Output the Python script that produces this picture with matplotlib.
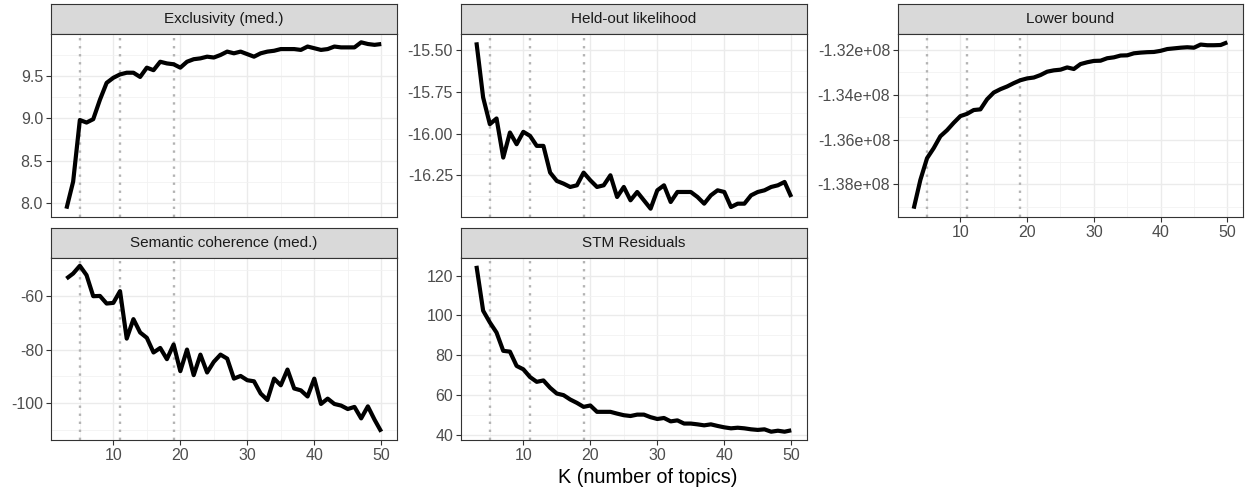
import numpy as np
import matplotlib
matplotlib.use("Agg")
import matplotlib.pyplot as plt
from matplotlib.ticker import FixedLocator, FuncFormatter

plt.rcParams['font.family'] = ['Liberation Sans', 'DejaVu Sans']

K = list(range(3, 51))
chosen_k = [5, 11, 19]

exclusivity = [7.93, 8.25, 8.98, 8.95, 8.99, 9.22, 9.42, 9.48, 9.52, 9.54,
               9.54, 9.49, 9.60, 9.57, 9.67, 9.65, 9.64, 9.60, 9.67, 9.70,
               9.71, 9.73, 9.72, 9.75, 9.79, 9.77, 9.79, 9.76, 9.73, 9.77,
               9.79, 9.80, 9.82, 9.82, 9.82, 9.81, 9.85, 9.83, 9.81, 9.82,
               9.85, 9.84, 9.84, 9.84, 9.90, 9.88, 9.87, 9.88]

heldout = [-15.454, -15.784, -15.944, -15.91, -16.144, -15.994, -16.064, -15.99,
           -16.014, -16.074, -16.074, -16.234, -16.284, -16.30, -16.32, -16.31,
           -16.234, -16.28, -16.32, -16.31, -16.25, -16.38, -16.32, -16.40,
           -16.35, -16.40, -16.45, -16.34, -16.31, -16.41, -16.35, -16.35,
           -16.35, -16.38, -16.42, -16.37, -16.34, -16.35, -16.44, -16.42,
           -16.42, -16.37, -16.35, -16.34, -16.32, -16.31, -16.29, -16.38]

# lower bound, in millions
lower_bound_m = [-139.08, -137.80, -136.83, -136.38, -135.85, -135.58, -135.25,
                 -134.95, -134.85, -134.68, -134.65, -134.20, -133.90, -133.75,
                 -133.63, -133.48, -133.35, -133.27, -133.23, -133.12, -132.97,
                 -132.91, -132.88, -132.78, -132.85, -132.63, -132.55, -132.49,
                 -132.48, -132.37, -132.33, -132.25, -132.24, -132.15, -132.12,
                 -132.10, -132.09, -132.04, -131.96, -131.93, -131.90, -131.88,
                 -131.90, -131.76, -131.79, -131.79, -131.78, -131.66]

semcoh = [-53.4, -51.5, -48.6, -52.1, -60.0, -59.9, -62.75, -62.5, -58.1, -75.9,
          -68.6, -73.6, -75.6, -81.1, -79.4, -83.6, -78.1, -88.1, -80.0, -89.6,
          -81.9, -88.6, -84.6, -81.9, -83.4, -90.9, -89.9, -91.5, -91.9, -96.5,
          -98.9, -90.9, -93.4, -87.5, -94.6, -95.3, -97.6, -90.9, -100.4, -98.4,
          -100.4, -101.0, -102.3, -101.5, -105.8, -101.3, -106.3, -110.8]

residuals = [125.0, 102.4, 96.5, 91.4, 82.2, 81.8, 74.6, 72.9, 69.0, 66.6,
             67.3, 63.6, 60.7, 59.9, 57.7, 56.0, 54.0, 54.7, 51.5, 51.5,
             51.5, 50.6, 49.8, 49.4, 50.1, 50.1, 48.8, 47.9, 48.4, 46.7,
             47.2, 45.6, 45.6, 45.2, 44.7, 45.2, 44.4, 43.7, 43.2, 43.5,
             43.2, 42.7, 42.4, 42.7, 41.5, 42.0, 41.5, 42.2]

W, H = 1245, 490
fig = plt.figure(figsize=(W / 100, H / 100), dpi=100)

grey30 = '#4D4D4D'
grey20 = '#333333'


def px_axes(x0, y0, x1, y1):
    return fig.add_axes([x0 / W, 1 - y1 / H, (x1 - x0) / W, (y1 - y0) / H])


def panel(x0, x1, y0, y1, title, y, yticks, yminor, fmt, xaxis):
    # strip
    s = px_axes(x0, y0, x1, y0 + 30)
    s.set_facecolor('#D9D9D9')
    s.set_xticks([]); s.set_yticks([])
    for sp in s.spines.values():
        sp.set_color(grey20); sp.set_linewidth(0.8)
    s.text(0.5, 0.5, title, ha='center', va='center', fontsize=11, color='#1A1A1A',
           transform=s.transAxes)

    ax = px_axes(x0, y0 + 30, x1, y1)
    ax.plot(K, y, color='black', lw=3.0, solid_capstyle='butt',
            solid_joinstyle='round', zorder=3)
    for k in chosen_k:
        ax.axvline(k, color='#B3B3B3', lw=1.7, ls=(0, (1, 2.4)), zorder=2)
    ax.margins(x=0.05, y=0.05)
    ax.yaxis.set_major_locator(FixedLocator(yticks))
    ax.yaxis.set_minor_locator(FixedLocator(yminor))
    ax.yaxis.set_major_formatter(FuncFormatter(fmt))
    ax.xaxis.set_major_locator(FixedLocator([10, 20, 30, 40, 50]))
    ax.xaxis.set_minor_locator(FixedLocator([5, 15, 25, 35, 45]))
    ax.grid(which='major', color='#EBEBEB', lw=1.0, zorder=0)
    ax.grid(which='minor', color='#F2F2F2', lw=0.6, zorder=0)
    ax.set_axisbelow(True)
    for sp in ax.spines.values():
        sp.set_color(grey20); sp.set_linewidth(0.8)
    ax.tick_params(which='major', axis='both', labelsize=11.5, labelcolor=grey30,
                   color=grey20, length=3.5, width=0.8, pad=2)
    ax.tick_params(which='minor', length=0)
    if not xaxis:
        ax.tick_params(axis='x', which='major', length=0, labelbottom=False)
    return ax


cols = [(50.7, 397), (460.7, 807), (898, 1243)]
row1 = (4, 217)
row2 = (227.5, 440)

panel(*cols[0], *row1, 'Exclusivity (med.)', exclusivity,
      [8.0, 8.5, 9.0, 9.5], [7.75, 8.25, 8.75, 9.25, 9.75],
      lambda v, p: f'{v:.1f}', False)
panel(*cols[1], *row1, 'Held-out likelihood', heldout,
      [-16.25, -16.0, -15.75, -15.5], [-16.375, -16.125, -15.875, -15.625],
      lambda v, p: f'{v:.2f}', False)
panel(*cols[2], *row1, 'Lower bound', np.array(lower_bound_m) * 1e6,
      [-1.38e8, -1.36e8, -1.34e8, -1.32e8],
      [-1.39e8, -1.37e8, -1.35e8, -1.33e8, -1.31e8],
      lambda v, p: f'{v / 1e8:.2f}e+08', True)
panel(*cols[0], *row2, 'Semantic coherence (med.)', semcoh,
      [-100, -80, -60], [-110, -90, -70, -50],
      lambda v, p: f'{v:.0f}', True)
panel(*cols[1], *row2, 'STM Residuals', residuals,
      [40, 60, 80, 100, 120], [50, 70, 90, 110],
      lambda v, p: f'{v:.0f}', True)

fig.text(648 / W, 1 - 477 / H, 'K (number of topics)', ha='center', va='center',
         fontsize=14.3, color='black')

fig.savefig('out.png', dpi=100)
